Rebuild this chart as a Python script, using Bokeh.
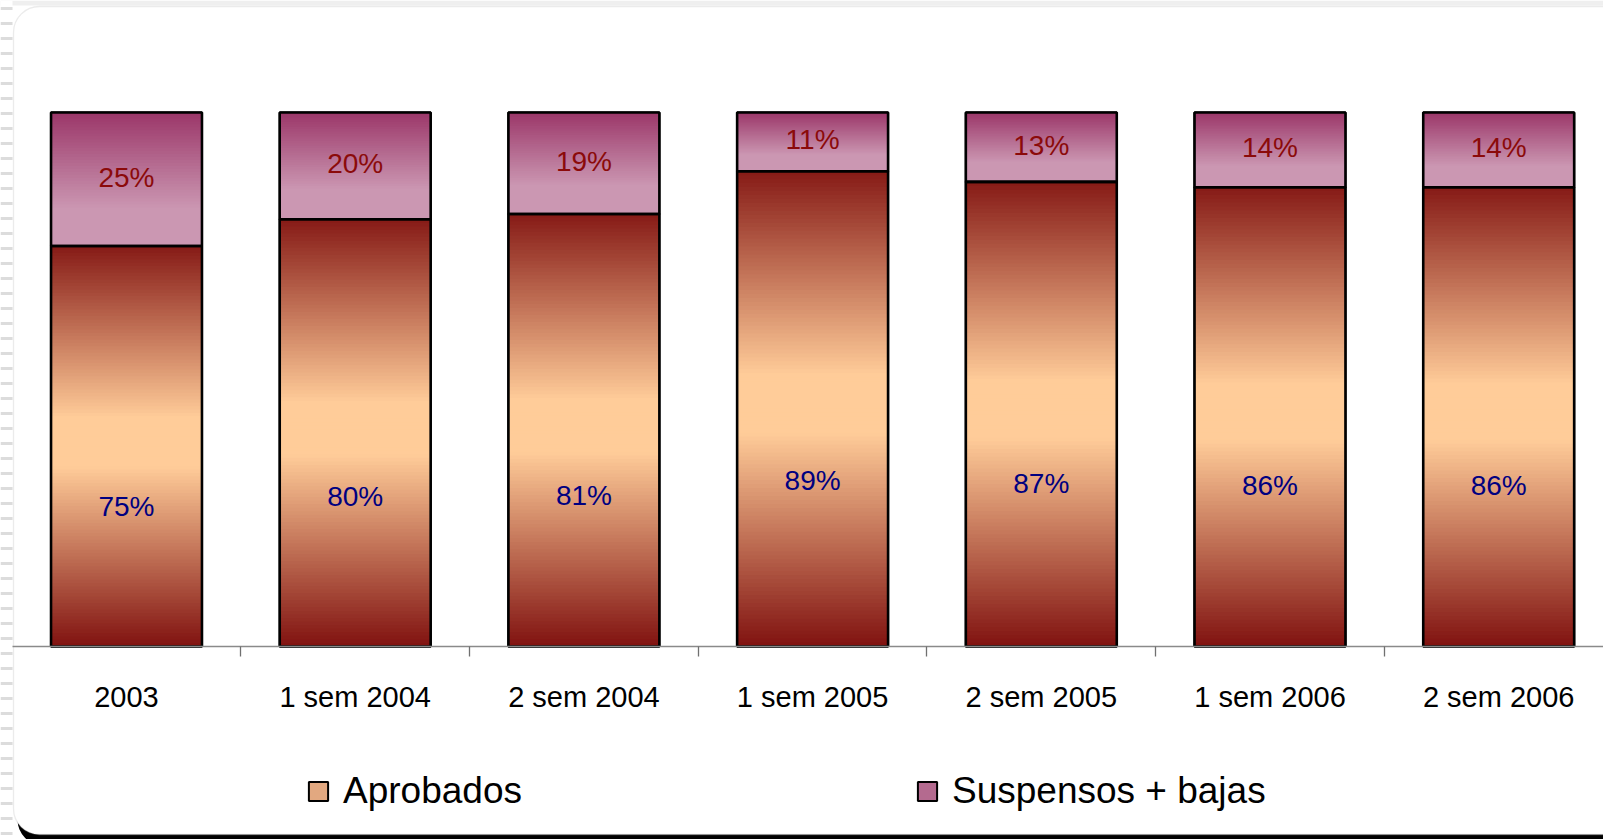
import numpy as np
from bokeh.plotting import figure
from bokeh.models import (Range1d, FixedTicker, Legend, LegendItem, BoxAnnotation,
                          Node, ColumnDataSource, LinearAxis)
from bokeh.core.properties import value
from bokeh.embed import file_html
from bokeh.resources import INLINE

# ---------------- data ----------------
categories = ["2003", "1 sem 2004", "2 sem 2004", "1 sem 2005",
              "2 sem 2005", "1 sem 2006", "2 sem 2006"]
aprobados = [75, 80, 81, 89, 87, 86, 86]
suspensos = [25, 20, 19, 11, 13, 14, 14]
series_names = ["Aprobados", "Suspensos + bajas"]

# ---------------- style ----------------
W, H = 1603, 839
PX_X = 228.7          # pixels per category
X0 = 11.65            # pixel of category axis start
PX_Y = 5.34           # pixels per percent
Y0 = 646.0            # pixel of the zero line
BAR_W = 0.66
DARK_RED = (128, 18, 16)
PEACH = (255, 204, 153)
MAG_TOP = (155, 55, 105)
MAG_BOT = (203, 151, 178)


def lerp(c0, c1, f):
    return "#%02x%02x%02x" % tuple(int(round(a + (b - a) * f)) for a, b in zip(c0, c1))


def aprob_color(t):  # t: 0 top .. 1 bottom
    d = abs(t - 0.49) / 0.51
    f = min(1.0, max(0.0, (d - 0.12) / 0.88))
    return lerp(PEACH, DARK_RED, f)


def susp_color(t):
    f = min(1.0, t / 0.72)
    return lerp(MAG_TOP, MAG_BOT, f)


n = len(categories)
xc = [i + 0.5 for i in range(n)]

p = figure(width=W, height=H, output_backend="svg", toolbar_location=None,
           x_range=Range1d(-X0 / PX_X, (W - X0) / PX_X),
           y_range=Range1d((Y0 - H) / PX_Y, Y0 / PX_Y),
           min_border=0, x_axis_type=None, y_axis_type=None)
p.outline_line_color = None
p.grid.visible = False
p.background_fill_color = "white"
p.border_fill_color = "white"

# page decoration: striped left edge, rounded frame with black shadow
top_band = BoxAnnotation(left=Node(target="canvas", symbol="left", offset=0),
                         right=Node(target="canvas", symbol="right", offset=0),
                         top=Node(target="canvas", symbol="top", offset=0),
                         bottom=Node(target="canvas", symbol="top", offset=5),
                         fill_color="#efefef", fill_alpha=1, line_color=None,
                         level="underlay")
stripes = BoxAnnotation(left=Node(target="canvas", symbol="left", offset=0),
                        right=Node(target="canvas", symbol="left", offset=12),
                        top=Node(target="canvas", symbol="top", offset=0),
                        bottom=Node(target="canvas", symbol="bottom", offset=0),
                        fill_color="white", fill_alpha=1, line_color=None,
                        hatch_pattern="horizontal_line", hatch_color="#dcdcdc",
                        hatch_scale=15, hatch_weight=3, hatch_alpha=1,
                        level="underlay")
shadow = BoxAnnotation(left=Node(target="canvas", symbol="left", offset=17),
                       right=Node(target="canvas", symbol="right", offset=60),
                       top=Node(target="canvas", symbol="top", offset=10),
                       bottom=Node(target="canvas", symbol="bottom", offset=6),
                       fill_color="black", fill_alpha=1, line_color=None,
                       border_radius=26, level="underlay")
frame = BoxAnnotation(left=Node(target="canvas", symbol="left", offset=13),
                      right=Node(target="canvas", symbol="right", offset=50),
                      top=Node(target="canvas", symbol="top", offset=6),
                      bottom=Node(target="canvas", symbol="bottom", offset=-5),
                      fill_color="white", fill_alpha=1, line_color="#bdbdbd",
                      line_width=1.3, border_radius=26, level="underlay")
for b in (top_band, stripes, shadow, frame):
    p.add_layout(b)

src = ColumnDataSource(dict(x=xc, a=aprobados, s=suspensos,
                            tot=[a + s for a, s in zip(aprobados, suspensos)],
                            mid=[a + s / 2 for a, s in zip(aprobados, suspensos)],
                            low=[a * 0.35 for a in aprobados],
                            at=[f"{a}%" for a in aprobados],
                            st=[f"{s}%" for s in suspensos]))

# series renderers (used by the legend), covered by the gradient below
ra = p.vbar(x="x", bottom=0, top="a", width=BAR_W, fill_color="#e2a880",
            line_color="black", line_width=2, source=src)
rs = p.vbar(x="x", bottom="a", top="tot", width=BAR_W, fill_color="#b46a8f",
            line_color="black", line_width=2, source=src)

# gradient slices computed from the data values
NA, NS = 120, 45
OV = 0.35
sl = dict(x=[], bottom=[], top=[], color=[])
for i in range(n):
    a, s = aprobados[i], suspensos[i]
    for k in range(NA):
        sl["x"].append(xc[i])
        sl["bottom"].append(a * k / NA)
        sl["top"].append(min(a, a * (k + 1) / NA + OV))
        sl["color"].append(aprob_color(1 - (k + 0.5) / NA))
    for k in range(NS):
        sl["x"].append(xc[i])
        sl["bottom"].append(a + s * k / NS)
        sl["top"].append(min(a + s, a + s * (k + 1) / NS + OV))
        sl["color"].append(susp_color(1 - (k + 0.5) / NS))
p.vbar(x="x", bottom="bottom", top="top", width=BAR_W, fill_color="color",
       line_color=None, source=ColumnDataSource(sl))

p.vbar(x="x", bottom=0, top="a", width=BAR_W, fill_color=None,
       line_color="black", line_width=2.6, source=src)
p.vbar(x="x", bottom="a", top="tot", width=BAR_W, fill_color=None,
       line_color="black", line_width=2.6, source=src)

p.text(x="x", y="mid", text="st", source=src, text_align="center",
       text_baseline="middle", text_color="#8b0a0a",
       text_font=value("Liberation Sans"), text_font_size="28px",
       y_offset=-2)
p.text(x="x", y="low", text="at", source=src, text_align="center",
       text_baseline="middle", text_color="#000080",
       text_font=value("Liberation Sans"), text_font_size="28px")

# axis at y = 0: labels at category centers, ticks between categories
ax = LinearAxis(fixed_location=0, bounds=(0, (W - X0) / PX_X))
ax.ticker = FixedTicker(ticks=xc, minor_ticks=list(range(1, n)))
ax.major_label_overrides = {x: c for x, c in zip(xc, categories)}
ax.axis_line_color = "#8a8a8a"
ax.axis_line_width = 1.3
ax.major_tick_line_color = None
ax.major_tick_out = 0
ax.major_tick_in = 0
ax.minor_tick_out = 10
ax.minor_tick_in = 0
ax.minor_tick_line_color = "#707070"
ax.minor_tick_line_width = 1.3
ax.major_label_text_font = "Liberation Sans"
ax.major_label_text_font_size = "29px"
ax.major_label_text_color = "black"
ax.major_label_standoff = 24
p.add_layout(ax, "below")

# legend
leg = Legend(items=[LegendItem(label=series_names[0], renderers=[ra]),
                    LegendItem(label=series_names[1], renderers=[rs])],
             orientation="horizontal", location=(306, 27),
             glyph_width=24, glyph_height=24, label_standoff=13, spacing=393,
             padding=0, margin=0, border_line_color=None,
             background_fill_alpha=0, label_text_font="Liberation Sans",
             label_text_font_size="37px", label_text_color="black")
p.add_layout(leg, "center")

open("out.html", "w").write(file_html(p, INLINE))
